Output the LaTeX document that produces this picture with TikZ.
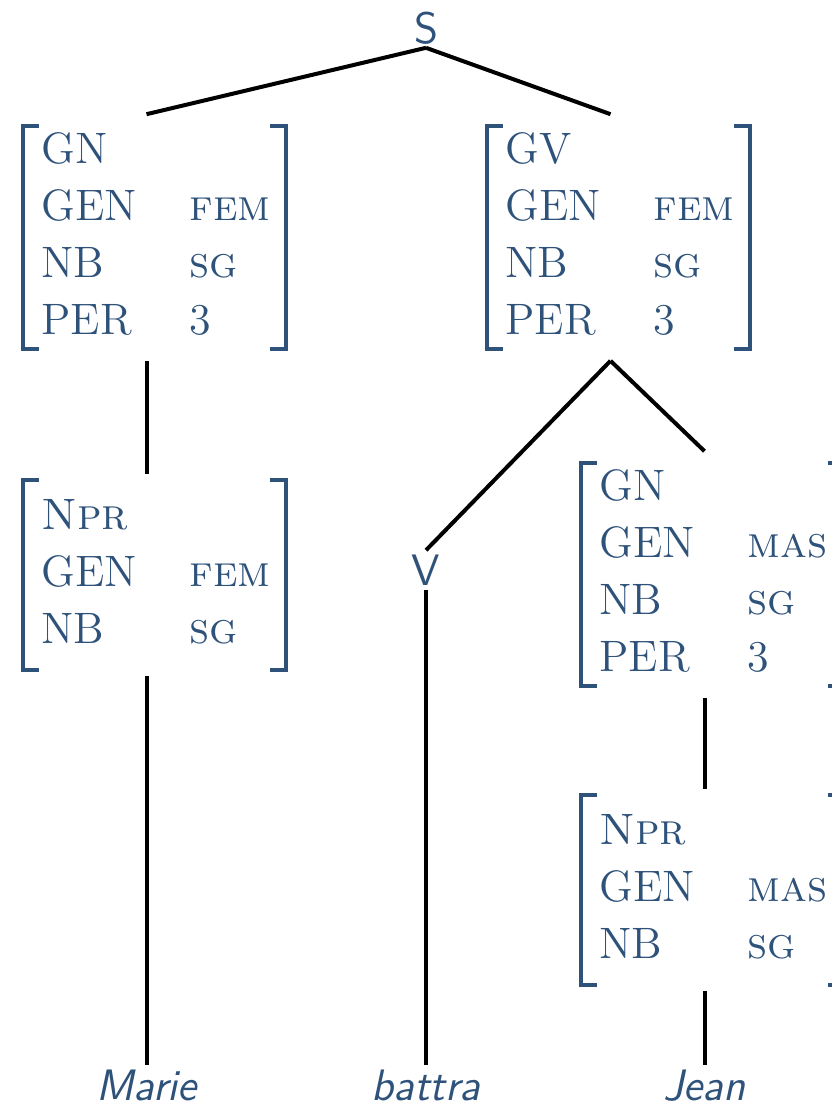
\documentclass[tikz,border=0pt]{standalone}
\usepackage{tikz}
\usetikzlibrary{matrix}
\definecolor{avmblue}{RGB}{46,82,122}
\newcommand{\avmfont}{\fontsize{11}{13}\selectfont}

\begin{document}
\begin{tikzpicture}[x=0.25pt,y=-0.25pt,
  avm/.style={matrix of nodes, inner xsep=4.5pt, inner ysep=1pt, row sep=3.75pt, column sep=0pt,
    nodes={anchor=base west, inner sep=0pt, text height=8pt, text depth=2.5pt, font=\avmfont, text=avmblue},
    column 1/.style={nodes={text width=37pt}},
    column 2/.style={nodes={text width=19.5pt}}},
  short/.style={inner ysep=4pt},
  cat/.style={anchor=base, inner sep=1pt, text height=7.5pt, text depth=0pt, font=\avmfont\sffamily, text=avmblue},
  leaf/.style={cat, font=\avmfont\sffamily\itshape},
  bracket/.style={draw=avmblue, line width=1pt},
  branch/.style={draw=black, line width=1pt}]

  \useasboundingbox (0,0) rectangle (832,1103);

  \node[cat] (s) at (426,43) {S};
  \matrix (gn) [avm] at (154.5,237.5) {
    GN \\
    GEN & \textsc{fem} \\
    NB  & \textsc{sg} \\
    PER & 3 \\
  };
  \matrix (gv) [avm] at (618.5,237.5) {
    GV \\
    GEN & \textsc{fem} \\
    NB  & \textsc{sg} \\
    PER & 3 \\
  };
  \matrix (nprm) [avm, short] at (154.5,575) {
    \textsc{Npr} \\
    GEN & \textsc{fem} \\
    NB  & \textsc{sg} \\
  };
  \node[cat] (v) at (426,585) {V};
  \matrix (gnj) [avm] at (712.5,574.5) {
    GN \\
    GEN & \textsc{mas} \\
    NB  & \textsc{sg} \\
    PER & 3 \\
  };
  \matrix (nprj) [avm, short] at (712.5,890) {
    \textsc{Npr} \\
    GEN & \textsc{mas} \\
    NB  & \textsc{sg} \\
  };
  \node[leaf] (marie) at (146.5,1100) {Marie};
  \node[leaf] (battra) at (426,1100) {battra};
  \node[leaf] (jean) at (704.5,1100) {Jean};

  \foreach \m in {gn,gv,nprm,gnj,nprj} {
    \draw[bracket] ([xshift=4pt]\m.north west) -| (\m.south west) -- ++(16,0);
    \draw[bracket] ([xshift=-4pt]\m.north east) -| (\m.south east) -- ++(-16,0);
  }

  \path[branch]
  (s.south) edge ([xshift=-2pt,yshift=3pt]gn.north)
            edge ([xshift=-2pt,yshift=3pt]gv.north)
  ([xshift=-2pt,yshift=-3pt]gn.south) edge ([xshift=-2pt,yshift=1.5pt]nprm.north)
  ([xshift=-2pt,yshift=-1.5pt]nprm.south) edge (marie.north)
  ([xshift=-2pt,yshift=-3pt]gv.south) edge (v.north)
            edge ([xshift=-2pt,yshift=3pt]gnj.north)
  (v.south) edge (battra.north)
  ([xshift=-2pt,yshift=-3pt]gnj.south) edge ([xshift=-2pt,yshift=1.5pt]nprj.north)
  ([xshift=-2pt,yshift=-1.5pt]nprj.south) edge (jean.north);
\end{tikzpicture}
\end{document}
